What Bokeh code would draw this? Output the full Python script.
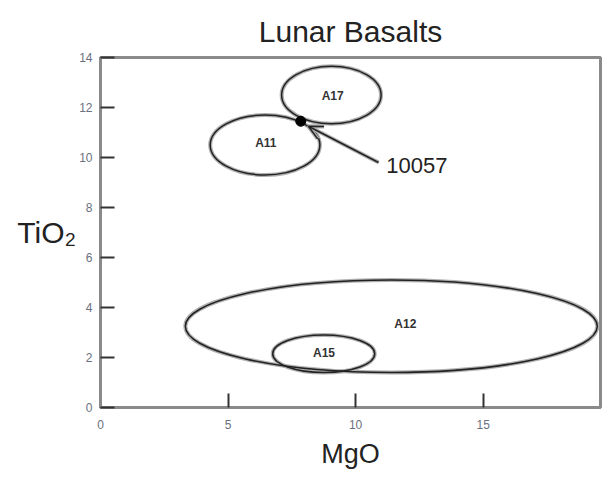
from bokeh.plotting import figure
from bokeh.models import Range1d, Arrow, OpenHead, ColumnDataSource, FixedTicker
from bokeh.embed import file_html
from bokeh.resources import INLINE
from bokeh.core.properties import value

# Data
fields = ["A17", "A11", "A12", "A15"]
field_mgo = [9.05, 6.45, 11.4, 8.75]
field_tio2 = [12.5, 10.5, 3.25, 2.15]
field_w = [3.9, 4.3, 16.15, 4.0]
field_h = [2.3, 2.4, 3.7, 1.5]
label_mgo = [9.1, 6.48, 11.95, 8.76]
label_tio2 = [12.48, 10.6, 3.36, 2.2]

sample_name = ["10057"]
sample_mgo = [7.85]
sample_tio2 = [11.45]

x_ticks = [0, 5, 10, 15, 20]
y_ticks = [0, 2, 4, 6, 8, 10, 12, 14]

title_text = "Lunar Basalts"
x_title = "MgO"
y_title = "TiO\u2082"

FONT = "Liberation Sans"

p = figure(width=602, height=471, output_backend="svg", toolbar_location=None,
           x_range=Range1d(0, 19.6), y_range=Range1d(0, 14),
           min_border_left=100, min_border_right=2, min_border_top=57, min_border_bottom=64)

p.title.text = title_text
p.title.align = "center"
p.title.text_font = FONT
p.title.text_font_size = "30px"
p.title.text_font_style = "normal"
p.title.text_color = "#222222"
p.title.standoff = 16
p.title.vertical_align = "top"

p.xgrid.visible = False
p.ygrid.visible = False
p.outline_line_color = "#8a8a8a"
p.outline_line_width = 3

for ax in (p.xaxis[0], p.yaxis[0]):
    ax.axis_line_color = "#8a8a8a"
    ax.axis_line_width = 3
    ax.major_tick_in = 14
    ax.major_tick_out = 0
    ax.major_tick_line_color = "#333333"
    ax.major_tick_line_width = 2
    ax.minor_tick_line_color = None
    ax.major_label_text_font = FONT
    ax.major_label_text_font_size = "12px"
    ax.major_label_text_color = "#6a7080"
    ax.axis_label_text_font = FONT
    ax.axis_label_text_font_style = "normal"
    ax.axis_label_text_color = "#222222"

p.xaxis.ticker = FixedTicker(ticks=x_ticks)
p.yaxis.ticker = FixedTicker(ticks=y_ticks)
p.xaxis.axis_label = x_title
p.yaxis.axis_label = y_title
p.xaxis.axis_label_text_font_size = "27px"
p.yaxis.axis_label_text_font_size = "30px"
p.yaxis.axis_label_orientation = "horizontal"
p.xaxis.major_label_standoff = 12
p.yaxis.major_label_standoff = 8
p.xaxis.axis_label_standoff = 7
p.yaxis.axis_label_standoff = 0

src = ColumnDataSource(dict(x=field_mgo, y=field_tio2, w=field_w, h=field_h))
p.ellipse(x="x", y="y", width="w", height="h", source=src,
          fill_color=None, line_color="#b0b0b0", line_width=4)
p.ellipse(x="x", y="y", width="w", height="h", source=src,
          fill_color=None, line_color="#222222", line_width=1.5)

p.text(x=label_mgo, y=label_tio2, text=fields, text_font=value(FONT),
       text_font_size="12px", text_font_style="bold", text_color="#333333",
       text_align="center", text_baseline="middle")

# arrow from label to sample
for col, lw in (("#b0b0b0", 4), ("#222222", 1.5)):
    p.add_layout(Arrow(x_start=10.9, y_start=9.8, x_end=sample_mgo[0] + 0.3, y_end=sample_tio2[0] - 0.2,
                       line_color=col, line_width=lw,
                       end=OpenHead(size=14, line_color=col, line_width=lw)))

p.scatter(x=sample_mgo, y=sample_tio2, size=10, color="black")
p.text(x=[11.2], y=[9.7], text=sample_name, text_font=value(FONT),
       text_font_size="22px", text_color="#222222", text_baseline="middle")

open("out.html", "w").write(file_html(p, INLINE))
